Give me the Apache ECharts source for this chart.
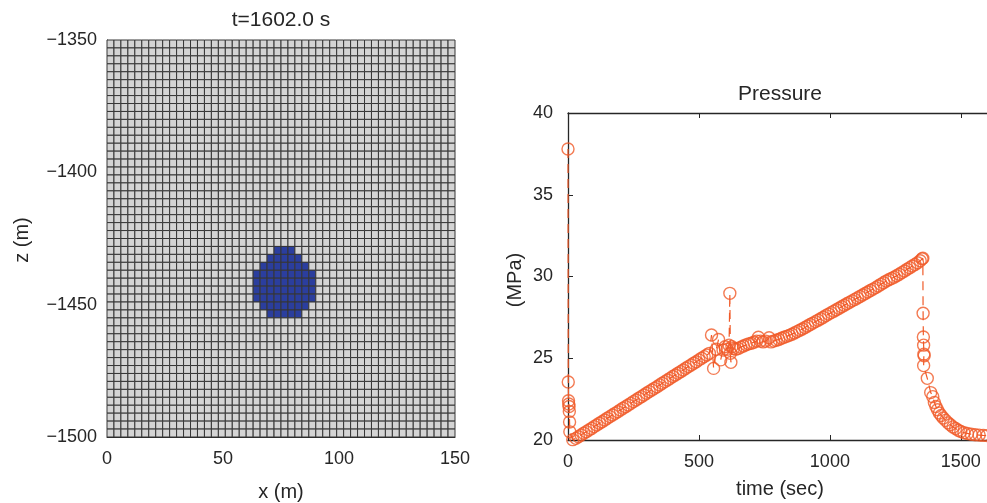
<!DOCTYPE html>
<html>
<head>
<meta charset="utf-8">
<script src="https://cdn.jsdelivr.net/npm/echarts@6/dist/echarts.min.js"></script>
<style>
html,body{margin:0;padding:0;background:#fff;}
#chart{width:987px;height:503px;}
</style>
</head>
<body>
<div id="chart"></div>
<script>
// ---------- Left panel: grid & plume ----------
const panelTitleLeft = 't=1602.0 s';
const panelTitleRight = 'Pressure';
const xTicksLeft = [0, 50, 100, 150];
const zTicksLeft = [-1500, -1450, -1400, -1350];
const cellSize = 3;          // m
const nCols = 50;
const nRows = 50;
// plume rows (counted from the top), with first/last plume column in each row
const plumeRows     = [26, 27, 28, 29, 30, 31, 32, 33, 34];
const plumeColStart = [24, 23, 22, 21, 21, 21, 21, 22, 23];
const plumeColEnd   = [26, 27, 28, 29, 29, 29, 29, 28, 27];

// ---------- Right panel: pressure history ----------
const timeTicks = [0, 500, 1000, 1500];
const pressureTicks = [20, 25, 30, 35, 40];
const injectionSpike = [[0,37.8],[1,23.55],[2,22.4],[3,22.2],[4,22.05],[5,21.75],[6,21.1],[7,20.5],[18,20.02]];
const rampUp = [[30,20.10],[40,20.20],[50,20.31],[60,20.41],[70,20.51],[80,20.61],[90,20.71],[100,20.82],[110,20.92],[120,21.02],[130,21.12],[140,21.22],[150,21.33],[160,21.43],[170,21.53],[180,21.63],[190,21.73],[200,21.84],[210,21.94],[220,22.04],[230,22.14],[240,22.24],[250,22.35],[260,22.45],[270,22.55],[280,22.65],[290,22.75],[300,22.86],[310,22.96],[320,23.06],[330,23.16],[340,23.26],[350,23.37],[360,23.47],[370,23.57],[380,23.67],[390,23.77],[400,23.88],[410,23.98],[420,24.08],[430,24.18],[440,24.28],[450,24.39],[460,24.49],[470,24.59],[480,24.69],[490,24.79],[500,24.90],[510,25.00],[520,25.10],[530,25.20],[540,25.30]];
const leakCluster = [[548,26.42],[556,24.38],[566,25.55],[575,26.15],[583,24.9],[592,25.5],[600,25.7],[608,25.55],[615,25.8],[618,28.97],[620,25.3],[622,24.75],[626,25.7],[632,25.6],[640,25.55]];
const plateauRise = [[650,25.60],[660,25.68],[670,25.75],[680,25.82],[690,25.88],[700,25.92],[710,25.98],[720,26.05],[727,26.28],[735,26.05],[745,26.0],[755,26.05],[768,26.25],[775,26.0],[785,26.05],[795,26.1],[805,26.15],[815,26.22],[825,26.28],[835,26.34],[845,26.40],[855,26.47],[865,26.55],[875,26.63],[885,26.71],[895,26.79],[905,26.88],[915,26.97],[925,27.06],[935,27.15],[945,27.24],[955,27.33],[965,27.42],[975,27.51],[985,27.61],[995,27.70],[1005,27.79],[1015,27.88],[1025,27.97],[1035,28.06],[1045,28.15],[1055,28.24],[1065,28.33],[1075,28.42],[1085,28.51],[1095,28.60],[1105,28.69],[1115,28.78],[1125,28.87],[1135,28.96],[1145,29.05],[1155,29.14],[1165,29.23],[1175,29.32],[1185,29.42],[1195,29.52],[1205,29.62],[1215,29.72],[1225,29.80],[1235,29.88],[1245,29.96],[1255,30.05],[1265,30.14],[1275,30.24],[1285,30.34],[1295,30.44],[1305,30.54],[1315,30.64],[1325,30.74],[1335,30.84],[1345,30.96],[1352,31.08],[1355,31.12]];
const shutInDecay = [[1356,27.75],[1357,26.3],[1358,25.8],[1359,25.25],[1360,25.15],[1358,24.55],[1372,23.77],[1385,22.9],[1393,22.65],[1399,22.3],[1405,22.05],[1411,21.85],[1418,21.65],[1425,21.5],[1433,21.35],[1442,21.2],[1451,21.05],[1460,20.93],[1470,20.8],[1480,20.7],[1490,20.6],[1500,20.52],[1512,20.45],[1525,20.4],[1540,20.35],[1555,20.32],[1570,20.3],[1585,20.28],[1600,20.27]];

// ---------- build ----------
const pressureData = [].concat(injectionSpike, rampUp, leakCluster, plateauRise, shutInDecay);
const zTop = zTicksLeft[zTicksLeft.length - 1];
const cells = [];
for (let r = 0; r < nRows; r++) {
  const pi = plumeRows.indexOf(r);
  for (let c = 0; c < nCols; c++) {
    const inPlume = pi >= 0 && c >= plumeColStart[pi] && c <= plumeColEnd[pi] ? 1 : 0;
    cells.push([c * cellSize, zTop - (r + 1) * cellSize, inPlume]);
  }
}

const FONT = 'Liberation Sans, Arial, Helvetica, sans-serif';
const TXT = '#262626';
const ORANGE = '#F05A28';
const minus = v => (v < 0 ? '\u2212' + Math.abs(v) : String(v));

const chart = echarts.init(document.getElementById('chart'), null, {renderer: 'canvas'});
const option = {
  animation: false,
  backgroundColor: '#ffffff',
  grid: [
    {left: 107, top: 40, width: 348, height: 397},
    {left: 568, top: 113, right: -5, height: 327}
  ],
  xAxis: [
    {gridIndex: 0, type: 'value', min: xTicksLeft[0], max: xTicksLeft[xTicksLeft.length-1], interval: 50,
     splitLine: {show: false}, axisTick: {show: false}, axisLine: {show: true, lineStyle: {color: TXT}},
     axisLabel: {color: TXT, fontSize: 18, fontFamily: FONT, margin: 13,
       formatter: v => xTicksLeft.includes(v) ? minus(v) : ''}},
    {gridIndex: 1, type: 'value', min: 0, max: 1600, interval: 500,
     splitLine: {show: false},
     axisTick: {show: true, inside: true, length: 5, lineStyle: {color: TXT}},
     axisLine: {show: true, onZero: false, lineStyle: {color: TXT, width: 1.3}},
     axisLabel: {color: TXT, fontSize: 18, fontFamily: FONT, margin: 13, showMaxLabel: false,
       formatter: v => timeTicks.includes(v) ? String(v) : ''}},
    {gridIndex: 1, type: 'value', position: 'top', min: 0, max: 1600, interval: 500,
     splitLine: {show: false},
     axisTick: {show: true, inside: true, length: 5, lineStyle: {color: TXT}},
     axisLine: {show: true, onZero: false, lineStyle: {color: TXT, width: 1.3}},
     axisLabel: {show: false}}
  ],
  yAxis: [
    {gridIndex: 0, type: 'value', min: zTicksLeft[0], max: zTicksLeft[zTicksLeft.length-1], interval: 50,
     splitLine: {show: false}, axisTick: {show: false}, axisLine: {show: true, lineStyle: {color: TXT}},
     axisLabel: {color: TXT, fontSize: 18, fontFamily: FONT, margin: 10,
       formatter: v => zTicksLeft.includes(v) ? minus(v) : ''}},
    {gridIndex: 1, type: 'value', min: pressureTicks[0], max: pressureTicks[pressureTicks.length-1], interval: 5,
     splitLine: {show: false},
     axisTick: {show: true, inside: true, length: 5, lineStyle: {color: TXT}},
     axisLine: {show: true, onZero: false, lineStyle: {color: TXT, width: 1.3}},
     axisLabel: {color: TXT, fontSize: 18, fontFamily: FONT, margin: 15,
       formatter: v => pressureTicks.includes(v) ? String(v) : ''}}
  ],
  series: [
    {
      type: 'custom', xAxisIndex: 0, yAxisIndex: 0, data: cells, progressive: 0,
      renderItem: function (params, api) {
        const x = api.value(0), z = api.value(1), f = api.value(2);
        const p0 = api.coord([x, z + cellSize]);
        const p1 = api.coord([x + cellSize, z]);
        return {
          type: 'rect',
          shape: {x: p0[0], y: p0[1], width: p1[0] - p0[0], height: p1[1] - p0[1]},
          style: {fill: f ? '#2b3e9e' : '#d4d4d4', stroke: '#363636', lineWidth: 1}
        };
      }
    },
    {
      type: 'line', xAxisIndex: 1, yAxisIndex: 1, data: pressureData, showSymbol: false,
      lineStyle: {color: ORANGE, width: 1.2, type: [9, 6]}, z: 2, silent: true
    },
    {
      type: 'scatter', xAxisIndex: 1, yAxisIndex: 1, data: pressureData, symbol: 'circle', symbolSize: 12,
      itemStyle: {color: 'rgba(0,0,0,0)', borderColor: ORANGE, borderWidth: 1.4}, z: 3, silent: true
    }
  ],
  graphic: [
    {type: 'text', x: 281, y: 20, style: {text: panelTitleLeft, font: '21px ' + FONT, fill: TXT, align: 'center', verticalAlign: 'middle', textAlign: 'center', textVerticalAlign: 'middle'}},
    {type: 'text', x: 780, y: 94, style: {text: panelTitleRight, font: '21px ' + FONT, fill: TXT, align: 'center', verticalAlign: 'middle', textAlign: 'center', textVerticalAlign: 'middle'}},
    {type: 'text', x: 281, y: 492, style: {text: 'x (m)', font: '20px ' + FONT, fill: TXT, align: 'center', verticalAlign: 'middle', textAlign: 'center', textVerticalAlign: 'middle'}},
    {type: 'text', x: 780, y: 489, style: {text: 'time (sec)', font: '20px ' + FONT, fill: TXT, align: 'center', verticalAlign: 'middle', textAlign: 'center', textVerticalAlign: 'middle'}},
    {type: 'text', x: 22, y: 240, rotation: Math.PI / 2, style: {text: 'z (m)', font: '20px ' + FONT, fill: TXT, align: 'center', verticalAlign: 'middle', textAlign: 'center', textVerticalAlign: 'middle'}},
    {type: 'text', x: 515, y: 280, rotation: Math.PI / 2, style: {text: '(MPa)', font: '20px ' + FONT, fill: TXT, align: 'center', verticalAlign: 'middle', textAlign: 'center', textVerticalAlign: 'middle'}}
  ]
};
chart.setOption(option);
</script>
</body>
</html>
